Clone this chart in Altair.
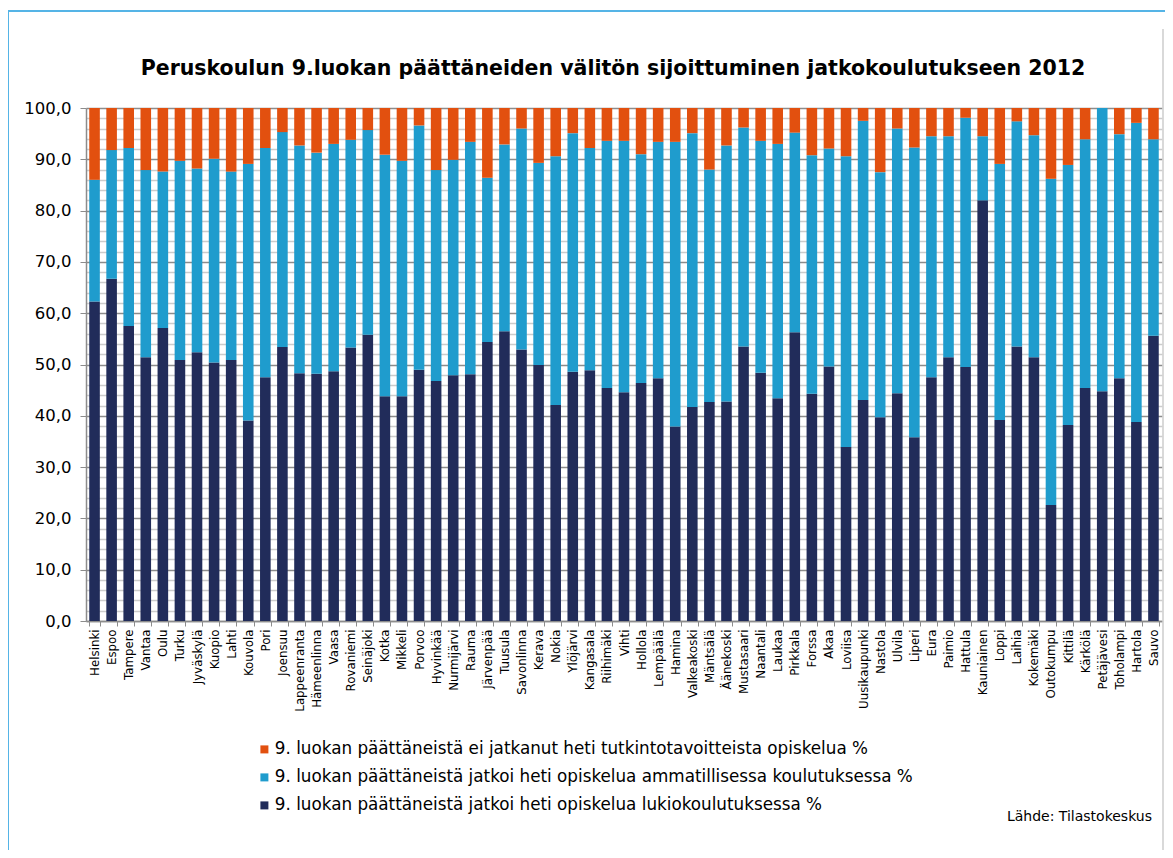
import altair as alt
import pandas as pd

kunnat = ["Helsinki", "Espoo", "Tampere", "Vantaa", "Oulu", "Turku", "Jyväskylä", "Kuopio", "Lahti",
          "Kouvola", "Pori", "Joensuu", "Lappeenranta", "Hämeenlinna", "Vaasa", "Rovaniemi", "Seinäjoki",
          "Kotka", "Mikkeli", "Porvoo", "Hyvinkää", "Nurmijärvi", "Rauma", "Järvenpää", "Tuusula",
          "Savonlinna", "Kerava", "Nokia", "Ylöjärvi", "Kangasala", "Riihimäki", "Vihti", "Hollola",
          "Lempäälä", "Hamina", "Valkeakoski", "Mäntsälä", "Äänekoski", "Mustasaari", "Naantali", "Laukaa",
          "Pirkkala", "Forssa", "Akaa", "Loviisa", "Uusikaupunki", "Nastola", "Ulvila", "Liperi", "Eura",
          "Paimio", "Hattula", "Kauniainen", "Loppi", "Laihia", "Kokemäki", "Outokumpu", "Kittilä",
          "Kärkölä", "Petäjävesi", "Toholampi", "Hartola", "Sauvo"]

lukio = [62.3, 66.7, 57.5, 51.4, 57.1, 50.9, 52.4, 50.4, 50.9, 39.1, 47.5, 53.4, 48.3, 48.2, 48.7, 53.3,
         55.8, 43.8, 43.8, 49.0, 46.8, 47.9, 48.1, 54.4, 56.5, 52.9, 49.9, 42.1, 48.6, 48.9, 45.4, 44.6,
         46.4, 47.3, 37.9, 41.7, 42.7, 42.8, 53.5, 48.4, 43.4, 56.3, 44.3, 49.6, 33.9, 43.1, 39.7, 44.4,
         35.8, 47.5, 51.4, 49.5, 82.0, 39.2, 53.5, 51.4, 22.6, 38.2, 45.4, 44.8, 47.3, 38.8, 55.6]

ammatillinen = [23.7, 25.1, 34.7, 36.5, 30.5, 38.8, 35.8, 39.7, 36.7, 50.0, 44.7, 41.9, 44.4, 43.1, 44.3,
                40.5, 39.9, 47.1, 45.9, 47.6, 41.1, 42.0, 45.3, 32.0, 36.4, 43.1, 39.4, 48.5, 46.5, 43.3,
                48.2, 49.0, 44.6, 46.1, 55.5, 53.4, 45.3, 49.9, 42.7, 45.2, 49.6, 38.9, 46.5, 42.5, 56.7,
                54.4, 47.8, 51.6, 56.5, 47.0, 43.1, 48.6, 12.5, 49.9, 43.9, 43.3, 63.6, 50.7, 48.5, 55.2,
                47.6, 58.3, 38.3]

ei_jatkanut = [14.0, 8.2, 7.8, 12.1, 12.4, 10.3, 11.8, 9.9, 12.4, 10.9, 7.8, 4.7, 7.3, 8.7, 7.0, 6.2,
               4.3, 9.1, 10.3, 3.4, 12.1, 10.1, 6.6, 13.6, 7.1, 4.0, 10.7, 9.4, 4.9, 7.8, 6.4, 6.4, 9.0,
               6.6, 6.6, 4.9, 12.0, 7.3, 3.8, 6.4, 7.0, 4.8, 9.2, 7.9, 9.4, 2.5, 12.5, 4.0, 7.7, 5.5, 5.5,
               1.9, 5.5, 10.9, 2.6, 5.3, 13.8, 11.1, 6.1, 0.0, 5.1, 2.9, 6.1]

S_EI = "9. luokan päättäneistä ei jatkanut heti tutkintotavoitteista opiskelua %"
S_AM = "9. luokan päättäneistä jatkoi heti opiskelua ammatillisessa koulutuksessa %"
S_LU = "9. luokan päättäneistä jatkoi heti opiskelua lukiokoulutuksessa %"
sarjat = [S_EI, S_AM, S_LU]
varit = ["#E2500F", "#1F9CCD", "#212C5A"]

OTSIKKO = "Peruskoulun 9.luokan päättäneiden välitön sijoittuminen jatkokoulutukseen 2012"
LAHDE = "Lähde: Tilastokeskus"

rows = []
for i, k in enumerate(kunnat):
    rows.append({"kunta": k, "sarja": S_LU, "arvo": lukio[i], "jarj": 0})
    rows.append({"kunta": k, "sarja": S_AM, "arvo": ammatillinen[i], "jarj": 1})
    rows.append({"kunta": k, "sarja": S_EI, "arvo": ei_jatkanut[i], "jarj": 2})
df = pd.DataFrame(rows)

W, H = 1076, 513
FONT = "DejaVu Sans"
y_ticks = list(range(0, 101, 2))
major = "datum.value % 10 === 0"

bars = alt.Chart(df).mark_bar().encode(
    x=alt.X("kunta:N", sort=kunnat, title=None,
            scale=alt.Scale(paddingInner=0.38, paddingOuter=0.19),
            axis=alt.Axis(labelAngle=-90, labelFont=FONT, labelFontSize=11.8, labelColor="#000000",
                          tickBand="extent", tickSize=5, tickColor="#8c8c8c", domainColor="#8c8c8c",
                          domainWidth=1.5, labelPadding=3, grid=False, labelOverlap=False)),
    y=alt.Y("arvo:Q", stack="zero", title=None,
            scale=alt.Scale(domain=[0, 100], nice=False),
            axis=alt.Axis(values=y_ticks, grid=True,
                          gridColor=alt.condition(major, alt.value("#8c8c8c"), alt.value("#cccccc")),
                          gridWidth=1.5,
                          tickOpacity=alt.condition(major, alt.value(1), alt.value(0)),
                          tickColor="#8c8c8c", tickSize=6, domainColor="#8c8c8c", domainWidth=1.5,
                          labelExpr="datum.value % 10 === 0 ? replace(format(datum.value, '.1f'), '.', ',') : ''",
                          labelFont=FONT, labelFontSize=16.5, labelColor="#000000", labelPadding=9,
                          labelOverlap=False)),
    color=alt.Color("sarja:N", scale=alt.Scale(domain=sarjat, range=varit),
                    legend=alt.Legend(title=None, orient="none", legendX=170, legendY=633,
                                      direction="vertical", symbolType="square", symbolSize=64,
                                      symbolStrokeWidth=0, labelFont=FONT, labelFontSize=16.8,
                                      labelColor="#000000", labelLimit=900, rowPadding=10,
                                      labelOffset=2, padding=0)),
    order=alt.Order("jarj:Q", sort="ascending"),
)

one = pd.DataFrame({"a": [0]})

otsikko = alt.Chart(pd.DataFrame({"t": [OTSIKKO]})).mark_text(
    font=FONT, fontSize=20.5, fontWeight="bold", align="center", baseline="alphabetic", color="#000000"
).encode(text="t:N", x=alt.value(527), y=alt.value(-33))

lahde = alt.Chart(pd.DataFrame({"t": [LAHDE]})).mark_text(
    font=FONT, fontSize=14, align="right", baseline="alphabetic", color="#000000"
).encode(text="t:N", x=alt.value(1066), y=alt.value(713))

kehys = alt.Chart(one).mark_rect(fillOpacity=0, stroke="#55B4E6", strokeWidth=2).encode(
    x=alt.value(-78), x2=alt.value(1300), y=alt.value(-97), y2=alt.value(1000))

viiva = alt.Chart(one).mark_rule(color="#cccccc", strokeWidth=1.5).encode(
    x=alt.value(1077), y=alt.value(-79), y2=alt.value(1000))

chart = alt.layer(kehys, viiva, bars, otsikko, lahde).properties(
    width=W, height=H,
    autosize="none",
    padding={"left": 78, "top": 100, "right": 3, "bottom": 229},
    background="#ffffff",
).configure_view(stroke=None)

chart.save("out.html", embed_options={"renderer": "svg", "actions": False})
